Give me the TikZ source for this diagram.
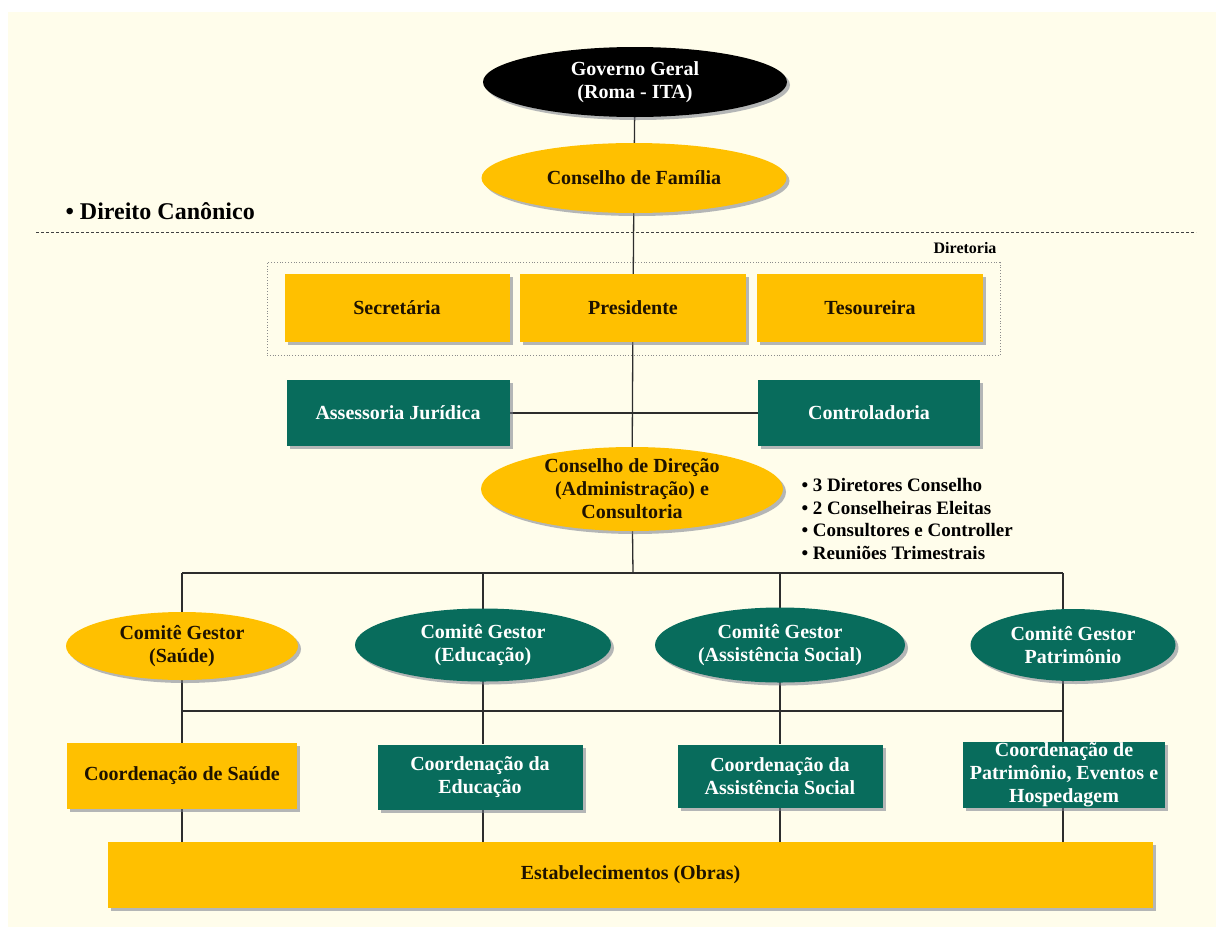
\documentclass[tikz,border=0pt]{standalone}
\usepackage{fontspec}
\setmainfont{Liberation Serif}
\usetikzlibrary{shapes.geometric,shadows,backgrounds}
\definecolor{gold}{RGB}{255,192,0}
\definecolor{teal2}{RGB}{8,108,92}
\definecolor{cream}{RGB}{255,253,235}
\definecolor{ink}{RGB}{30,18,0}
\definecolor{shad}{RGB}{120,125,140}
\definecolor{linec}{RGB}{45,45,45}
\begin{document}
\begin{tikzpicture}[x=1pt,y=-1pt,
  every node/.style={font=\bfseries\fontsize{20}{23}\selectfont, align=center},
  sh/.style={drop shadow={shadow xshift=3pt, shadow yshift=-3pt, fill=shad, opacity=.55}},
  ybox/.style={rectangle, fill=gold, text=ink, sh, inner sep=0pt},
  gbox/.style={rectangle, fill=teal2, text=white, sh, inner sep=0pt},
  yell/.style={ellipse, fill=gold, sh, inner sep=0pt},
  gell/.style={ellipse, fill=teal2, sh, inner sep=0pt},
  bell/.style={ellipse, fill=black, sh, inner sep=0pt},
  conn/.style={draw=linec, line width=1.3pt},
  dirbox/.style={rectangle, draw=black!45, dotted, line width=0.8pt, inner sep=0pt},
]
\useasboundingbox (0,0) rectangle (1216,927);

% top
\node[bell, minimum width=304pt, minimum height=70pt,
  label={[text=white]center:{Governo Geral\\(Roma - ITA)}}] (gg) at (635,82) {};
\node[yell, minimum width=305pt, minimum height=70pt,
  label={[text=ink]center:{Conselho de Família}}] (cf) at (634,178) {};

\node[anchor=west, font=\bfseries\fontsize{24}{28}\selectfont] (dc) at (62,211) {• Direito Canônico};

% diretoria
\node[dirbox, minimum width=733pt, minimum height=93pt] (dir) at (633.5,309) {};
\node[anchor=east, font=\bfseries\fontsize{16}{19}\selectfont] (dirl) at (1000,248) {Diretoria};
\node[ybox, minimum width=225pt, minimum height=68pt] (sec) at (397,308) {Secretária};
\node[ybox, minimum width=226pt, minimum height=68pt] (pres) at (633,308) {Presidente};
\node[ybox, minimum width=226pt, minimum height=68pt] (tes) at (870,308) {Tesoureira};

\node[gbox, minimum width=223pt, minimum height=66pt] (aj) at (398,413) {Assessoria Jurídica};
\node[gbox, minimum width=222pt, minimum height=66pt] (ctrl) at (869,413) {Controladoria};

\node[yell, minimum width=302pt, minimum height=84pt,
  label={[text=ink]center:{Conselho de Direção\\(Administração) e\\Consultoria}}] (cd) at (632,489) {};

\node[anchor=west, align=left, font=\bfseries\fontsize{19}{22.7}\selectfont] (lst) at (798,519)
  {• 3 Diretores Conselho\\• 2 Conselheiras Eleitas\\• Consultores e Controller\\• Reuniões Trimestrais};

% committees
\node[yell, minimum width=232pt, minimum height=68pt,
  label={[text=ink]center:{Comitê Gestor\\(Saúde)}}] (cs) at (182,646) {};
\node[gell, minimum width=256pt, minimum height=73pt,
  label={[text=white]center:{Comitê Gestor\\(Educação)}}] (ce) at (483,645) {};
\node[gell, minimum width=250pt, minimum height=75pt,
  label={[text=white]center:{Comitê Gestor\\(Assistência Social)}}] (ca) at (780,645) {};
\node[gell, minimum width=205pt, minimum height=72pt,
  label={[text=white]center:{Comitê Gestor\\Patrimônio}}] (cp) at (1073,645) {};

% coordinations
\node[ybox, minimum width=230pt, minimum height=66pt] (cos) at (182,776) {Coordenação de Saúde};
\node[gbox, minimum width=205pt, minimum height=65pt] (coe) at (480,777) {Coordenação da\\Educação};
\node[gbox, minimum width=205pt, minimum height=63pt] (coa) at (780,776) {Coordenação da\\Assistência Social};
\node[gbox, minimum width=202pt, minimum height=66pt] (cop) at (1064,775) {Coordenação de\\Patrimônio, Eventos e\\Hospedagem};

\node[ybox, minimum width=1045pt, minimum height=66pt] (est) at (630.5,875) {Estabelecimentos (Obras)};

\coordinate (b0) at (633,573);
\coordinate (u1) at (182,573);
\coordinate (u2) at (483,573);
\coordinate (u3) at (780,573);
\coordinate (u4) at (1063,573);
\coordinate (l1) at (182,711);
\coordinate (l2) at (483,711);
\coordinate (l3) at (780,711);
\coordinate (l4) at (1063,711);

\begin{pgfonlayer}{background}
  \fill[white] (0,0) rectangle (1216,927);
  \fill[cream] (8,12) rectangle (1216,927);
  \draw[black!75, line width=0.9pt, dash pattern=on 3pt off 2pt] (36,232) -- (1196,232);
  \draw[conn] (gg) -- (cf);
  \draw[conn] (cf) -- (pres);
  \draw[conn] (pres) -- (cd);
  \draw[conn] (aj) -- (ctrl);
  \draw[conn] (cd) -- (b0);
  \draw[conn] (u1) -- (u4);
  \draw[conn] (l1) -- (l4);
  \draw[conn] (u1) -- (l1) -- (l1 |- cos.north);
  \draw[conn] (u2) -- (l2) -- (l2 |- coe.north);
  \draw[conn] (u3) -- (l3) -- (l3 |- coa.north);
  \draw[conn] (u4) -- (l4) -- (l4 |- cop.north);
  \draw[conn] (cos) -- (cos |- est.north);
  \draw[conn] (l2 |- coe.south) -- (l2 |- est.north);
  \draw[conn] (coa) -- (coa |- est.north);
  \draw[conn] (l4 |- cop.south) -- (l4 |- est.north);
\end{pgfonlayer}
\end{tikzpicture}
\end{document}
